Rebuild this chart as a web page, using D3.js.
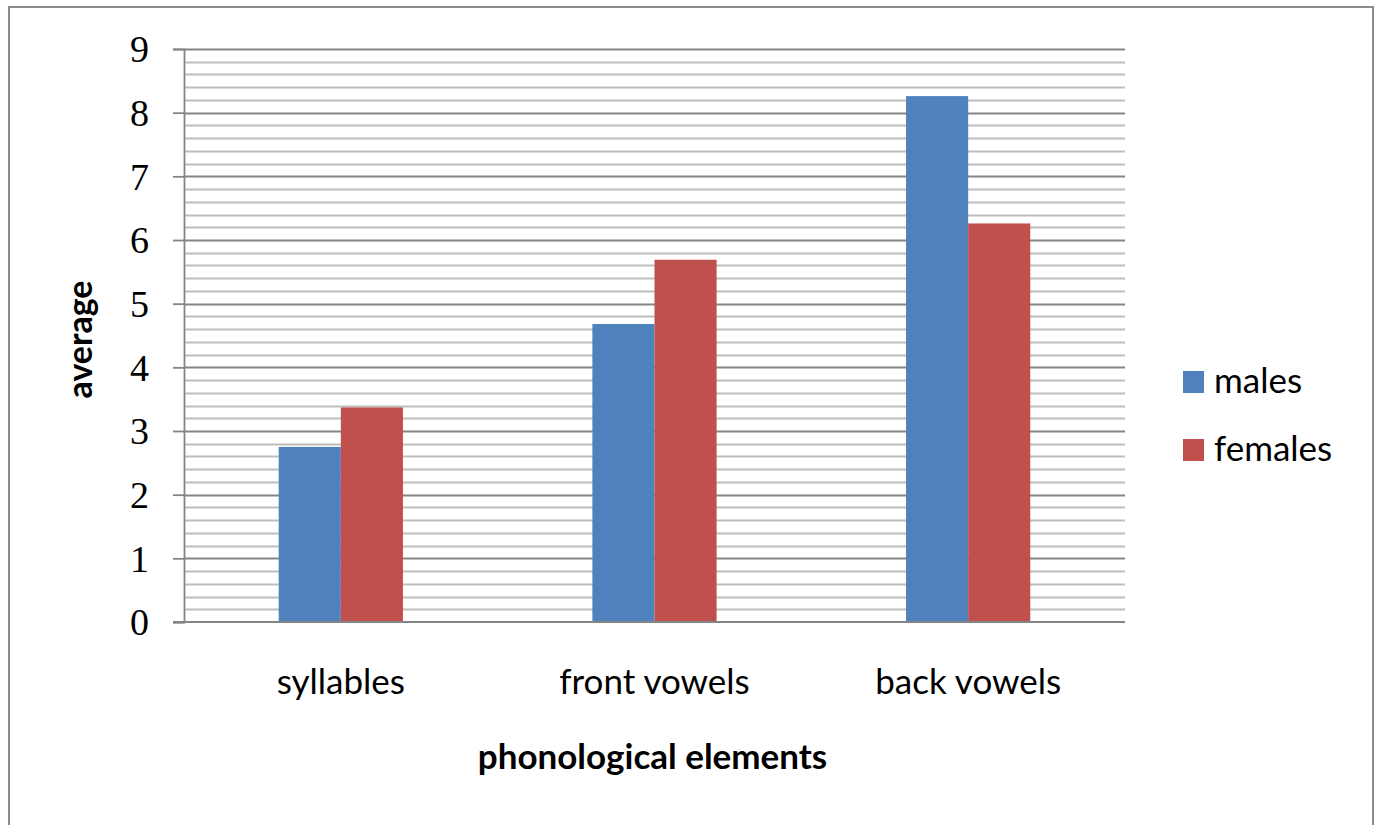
<!DOCTYPE html>
<html>
<head>
<meta charset="utf-8">
<script src="https://cdn.jsdelivr.net/npm/d3@7"></script>
<style>
  html, body { margin: 0; padding: 0; background: #fff; }
  svg { display: block; }
</style>
</head>
<body>
<svg id="chart" width="1378" height="825"></svg>
<script>
// Average counts of phonological elements by speaker group
const categories = ["syllables", "front vowels", "back vowels"];
const seriesNames = ["males", "females"];
const males = [2.75, 4.68, 8.26];
const females = [3.37, 5.69, 6.26];
const yTicks = [0, 1, 2, 3, 4, 5, 6, 7, 8, 9];
const colors = ["#4F81BD", "#C0504D"];

const svg = d3.select("#chart");
const sansFont = "Lato, 'Open Sans', sans-serif";

// outer frame
svg.append("rect")
  .attr("x", 9).attr("y", 7)
  .attr("width", 1364).attr("height", 830)
  .attr("fill", "#fff")
  .attr("stroke", "#8c8c8c")
  .attr("stroke-width", 2);

const plot = { left: 184, right: 1125, top: 49, bottom: 622 };

const x = d3.scaleBand()
  .domain(categories)
  .range([plot.left, plot.right]);

const y = d3.scaleLinear()
  .domain([0, 9])
  .range([plot.bottom, plot.top]);

// minor gridlines every 0.2
const minor = d3.range(0, 9.001, 0.2).filter(v => Math.abs(v - Math.round(v)) > 1e-6);
svg.append("g").selectAll("line")
  .data(minor)
  .join("line")
  .attr("x1", plot.left).attr("x2", plot.right)
  .attr("y1", d => Math.round(y(d)) + 0.5)
  .attr("y2", d => Math.round(y(d)) + 0.5)
  .attr("stroke", "#bdbdbd")
  .attr("stroke-width", 1.8);

// major gridlines
svg.append("g").selectAll("line")
  .data(yTicks.filter(d => d > 0))
  .join("line")
  .attr("x1", plot.left).attr("x2", plot.right)
  .attr("y1", d => Math.round(y(d)) + 0.5)
  .attr("y2", d => Math.round(y(d)) + 0.5)
  .attr("stroke", "#858585")
  .attr("stroke-width", 1.8);

// bars
const groups = [males, females];
const barW = x.bandwidth() * 0.198;
groups.forEach((vals, si) => {
  svg.append("g").selectAll("rect")
    .data(categories.map((c, i) => ({ c, v: vals[i] })))
    .join("rect")
    .attr("x", d => x(d.c) + x.bandwidth() / 2 - barW + si * barW)
    .attr("y", d => y(d.v))
    .attr("width", barW)
    .attr("height", d => y(0) - y(d.v))
    .attr("fill", colors[si]);
});

// y axis
const yAxis = d3.axisLeft(y)
  .tickValues(yTicks)
  .tickSize(11)
  .tickPadding(24)
  .tickFormat(d3.format("d"));
const gy = svg.append("g")
  .attr("transform", `translate(${plot.left},0)`)
  .call(yAxis);
gy.select(".domain").attr("stroke", "#858585").attr("stroke-width", 1.8);
gy.selectAll(".tick line").attr("stroke", "#858585").attr("stroke-width", 1.8);
gy.selectAll(".tick text")
  .attr("fill", "#000")
  .style("font-family", "'Liberation Serif', 'DejaVu Serif', serif")
  .style("font-size", "38px")
  .attr("dy", "0.34em");

// baseline (x axis line)
svg.append("line")
  .attr("x1", plot.left - 11).attr("x2", plot.right)
  .attr("y1", y(0)).attr("y2", y(0))
  .attr("stroke", "#858585").attr("stroke-width", 1.8);

// category labels
const xAxis = d3.axisBottom(x).tickSize(0).tickPadding(0);
const gx = svg.append("g")
  .attr("transform", `translate(0,${plot.bottom})`)
  .call(xAxis);
gx.select(".domain").remove();
gx.selectAll(".tick text")
  .attr("y", 72)
  .attr("dy", 0)
  .attr("fill", "#000")
  .style("font-family", sansFont)
  .style("font-size", "35px");

// axis titles
svg.append("text")
  .attr("x", (plot.left + plot.right) / 2 - 2)
  .attr("y", 769)
  .attr("text-anchor", "middle")
  .style("font-family", sansFont)
  .style("font-weight", "bold")
  .style("font-size", "35px")
  .text("phonological elements");

svg.append("text")
  .attr("transform", `translate(92,${(plot.top + plot.bottom) / 2 + 4}) rotate(-90)`)
  .attr("text-anchor", "middle")
  .style("font-family", sansFont)
  .style("font-weight", "bold")
  .style("font-size", "34px")
  .text("average");

// legend
const legend = svg.append("g");
seriesNames.forEach((name, i) => {
  const ly = 371 + i * 68;
  legend.append("rect")
    .attr("x", 1183).attr("y", ly)
    .attr("width", 21).attr("height", 22)
    .attr("fill", colors[i]);
  legend.append("text")
    .attr("x", 1214).attr("y", ly + 22)
    .style("font-family", sansFont)
    .style("font-size", "35px")
    .text(name);
});
</script>
</body>
</html>
